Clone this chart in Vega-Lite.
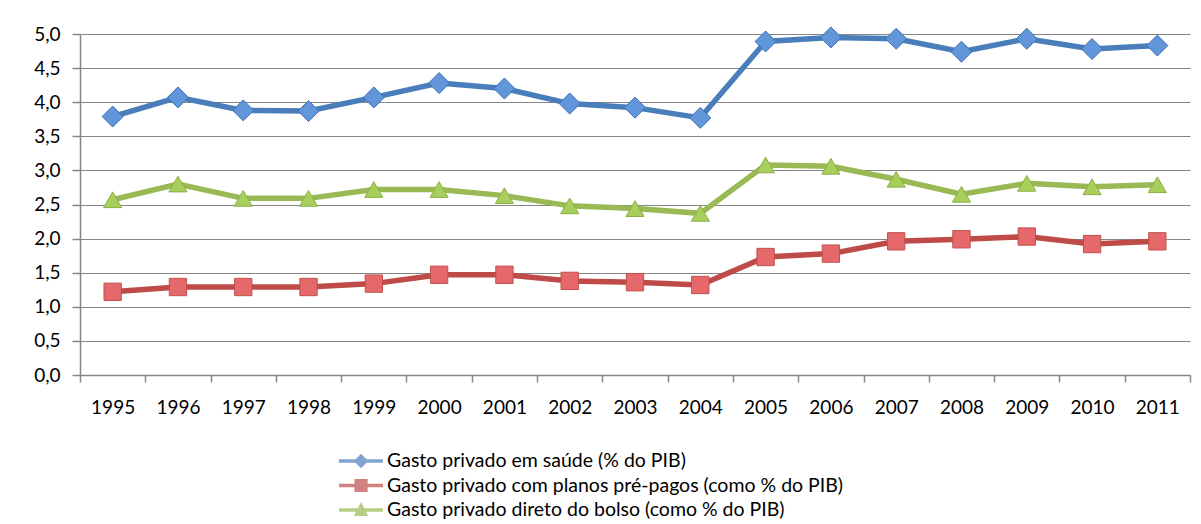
{
  "$schema": "https://vega.github.io/schema/vega-lite/v6.json",
  "width": 1110,
  "height": 341,
  "autosize": {"type": "none"},
  "padding": {"left": 80, "top": 34, "right": 11, "bottom": 149},
  "background": "white",
  "config": {
    "view": {"stroke": null},
    "font": "Lato",
    "axis": {"labelFont": "Lato", "labelFontSize": 19, "labelColor": "#000000", "domainColor": "#868686", "tickColor": "#868686", "gridColor": "#868686", "domainWidth": 1.5, "tickWidth": 1.5}
  },
  "data": {"values": [
    {"year": "1995", "series": "A", "value": 3.79},
    {"year": "1996", "series": "A", "value": 4.07},
    {"year": "1997", "series": "A", "value": 3.88},
    {"year": "1998", "series": "A", "value": 3.87},
    {"year": "1999", "series": "A", "value": 4.07},
    {"year": "2000", "series": "A", "value": 4.28},
    {"year": "2001", "series": "A", "value": 4.20},
    {"year": "2002", "series": "A", "value": 3.98},
    {"year": "2003", "series": "A", "value": 3.92},
    {"year": "2004", "series": "A", "value": 3.77},
    {"year": "2005", "series": "A", "value": 4.89},
    {"year": "2006", "series": "A", "value": 4.95},
    {"year": "2007", "series": "A", "value": 4.93},
    {"year": "2008", "series": "A", "value": 4.74},
    {"year": "2009", "series": "A", "value": 4.93},
    {"year": "2010", "series": "A", "value": 4.78},
    {"year": "2011", "series": "A", "value": 4.83},
    {"year": "1995", "series": "B", "value": 1.22},
    {"year": "1996", "series": "B", "value": 1.29},
    {"year": "1997", "series": "B", "value": 1.29},
    {"year": "1998", "series": "B", "value": 1.29},
    {"year": "1999", "series": "B", "value": 1.34},
    {"year": "2000", "series": "B", "value": 1.47},
    {"year": "2001", "series": "B", "value": 1.47},
    {"year": "2002", "series": "B", "value": 1.38},
    {"year": "2003", "series": "B", "value": 1.36},
    {"year": "2004", "series": "B", "value": 1.32},
    {"year": "2005", "series": "B", "value": 1.73},
    {"year": "2006", "series": "B", "value": 1.78},
    {"year": "2007", "series": "B", "value": 1.96},
    {"year": "2008", "series": "B", "value": 1.99},
    {"year": "2009", "series": "B", "value": 2.03},
    {"year": "2010", "series": "B", "value": 1.92},
    {"year": "2011", "series": "B", "value": 1.96},
    {"year": "1995", "series": "C", "value": 2.57},
    {"year": "1996", "series": "C", "value": 2.80},
    {"year": "1997", "series": "C", "value": 2.59},
    {"year": "1998", "series": "C", "value": 2.59},
    {"year": "1999", "series": "C", "value": 2.72},
    {"year": "2000", "series": "C", "value": 2.72},
    {"year": "2001", "series": "C", "value": 2.63},
    {"year": "2002", "series": "C", "value": 2.48},
    {"year": "2003", "series": "C", "value": 2.44},
    {"year": "2004", "series": "C", "value": 2.37},
    {"year": "2005", "series": "C", "value": 3.08},
    {"year": "2006", "series": "C", "value": 3.06},
    {"year": "2007", "series": "C", "value": 2.87},
    {"year": "2008", "series": "C", "value": 2.65},
    {"year": "2009", "series": "C", "value": 2.81},
    {"year": "2010", "series": "C", "value": 2.76},
    {"year": "2011", "series": "C", "value": 2.79}
  ]},
  "encoding": {
    "x": {"field": "year", "type": "ordinal", "title": null,
      "scale": {"type": "band", "paddingInner": 0, "paddingOuter": 0},
      "axis": {"labelAngle": 0, "tickBand": "extent", "tickSize": 7, "labelPadding": 16, "grid": false}},
    "y": {"field": "value", "type": "quantitative", "title": null,
      "scale": {"domain": [0, 5], "nice": false, "zero": true},
      "axis": {"values": [0, 0.5, 1, 1.5, 2, 2.5, 3, 3.5, 4, 4.5, 5], "labelExpr": "replace(format(datum.value, '.1f'), '.', ',')", "grid": true, "gridWidth": 1, "tickSize": 8, "labelPadding": 12}}
  },
  "layer": [
    {
      "transform": [{"filter": "datum.value < -1"}],
      "mark": {"type": "point", "filled": true},
      "encoding": {
        "color": {"field": "series", "type": "nominal",
          "scale": {"domain": ["A", "B", "C"], "range": ["#4A7EBB", "#BE4B48", "#98B954"]},
          "legend": {"orient": "none", "legendX": 259, "legendY": 415, "title": null, "direction": "vertical",
            "labelExpr": "datum.value == 'A' ? 'Gasto privado em saúde (% do PIB)' : datum.value == 'B' ? 'Gasto privado com planos pré-pagos (como % do PIB)' : 'Gasto privado direto do bolso (como % do PIB)'",
            "labelFont": "Lato", "labelFontSize": 19.5, "labelColor": "#000000", "symbolSize": 1936, "symbolStrokeWidth": 0, "labelOffset": 4, "rowPadding": 0.5, "clipHeight": 24, "labelLimit": 700}},
        "shape": {"field": "series", "type": "nominal",
          "scale": {"domain": ["A", "B", "C"], "range": [
            "M-1,-0.075H1V0.075H-1Z M0,-0.33L0.33,0L0,0.33L-0.33,0Z",
            "M-1,-0.075H1V0.075H-1Z M-0.3,-0.3H0.3V0.3H-0.3Z",
            "M-1,-0.075H1V0.075H-1Z M0,-0.36L0.33,0.27L-0.33,0.27Z"]}}
      }
    },
    {
      "mark": {"type": "line", "strokeWidth": 5.5},
      "encoding": {
        "stroke": {"field": "series", "type": "nominal",
          "scale": {"domain": ["A", "B", "C"], "range": ["#4A7EBB", "#BE4B48", "#98B954"]}, "legend": null}
      }
    },
    {
      "transform": [{"filter": "datum.series == 'A'"}],
      "mark": {"type": "point", "filled": true, "shape": "diamond", "size": 440, "fill": "#6196DA", "stroke": "#3F6FB0", "strokeWidth": 1, "opacity": 1}
    },
    {
      "transform": [{"filter": "datum.series == 'B'"}],
      "mark": {"type": "point", "filled": true, "shape": "square", "size": 300, "fill": "#E5696A", "stroke": "#C0504D", "strokeWidth": 1, "opacity": 1}
    },
    {
      "transform": [{"filter": "datum.series == 'C'"}],
      "mark": {"type": "point", "filled": true, "shape": "triangle-up", "size": 330, "fill": "#A8CF5C", "stroke": "#8CB046", "strokeWidth": 1, "opacity": 1}
    }
  ]
}
